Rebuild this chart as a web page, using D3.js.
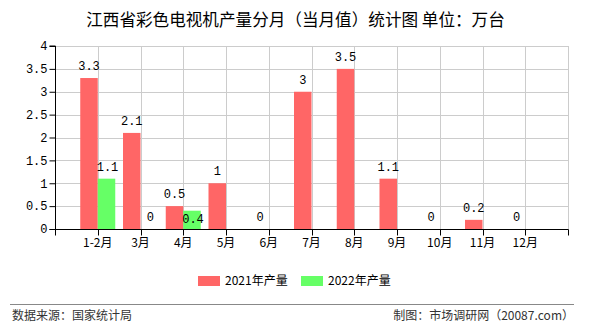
<!DOCTYPE html>
<html><head><meta charset="utf-8">
<script src="https://cdn.jsdelivr.net/npm/d3@7"></script>
<style>body{margin:0;background:#fff}svg{display:block}</style>
</head><body><svg id="c" width="590" height="330"></svg>
<script>
const categories = ["1-2月","3月","4月","5月","6月","7月","8月","9月","10月","11月","12月"];
const series2021 = [3.3, 2.1, 0.5, 1, 0, 3, 3.5, 1.1, 0, 0.2, 0];
const series2022 = [1.1, 0, 0.4, null, null, null, null, null, null, null, null];
const seriesNames = ["2021年产量","2022年产量"];
const yTicks = [0,0.5,1,1.5,2,2.5,3,3.5,4];
const title = "江西省彩色电视机产量分月（当月值）统计图 单位：万台";
const sourceText = "数据来源：国家统计局";
const creditText = "制图：市场调研网（20087.com）";

const colors = ["#ff6666","#66ff66"];
const svg = d3.select("#c");
const L = 55, R = 568, T = 46, B = 229;
const step = (R - L) / 12;
const x = d3.scaleBand().domain(categories).range([L + step/2, L + step/2 + step*categories.length]).padding(0);
const cx = c => x(c) + x.bandwidth()/2;
const y = d3.scaleLinear().domain([0,4]).range([B, T]);
const bw = 17.5;
const numFont = "'Liberation Mono','DejaVu Sans Mono',monospace";
const cjk = "'Noto Sans CJK SC','Noto Sans',sans-serif";

svg.append("text").attr("x",295.5).attr("y",26).attr("text-anchor","middle")
  .attr("font-family",cjk).attr("font-size",16.6).attr("fill","#000").text(title);

// horizontal grid
svg.append("g").selectAll("line").data(yTicks.slice(1)).join("line")
  .attr("x1",L).attr("x2",R).attr("y1",d=>Math.round(y(d))+0.5).attr("y2",d=>Math.round(y(d))+0.5)
  .attr("stroke","#cccccc");
// vertical grid
const vgrid = categories.map(cx).concat([R]);
svg.append("g").selectAll("line").data(vgrid).join("line")
  .attr("x1",d=>Math.round(d)+0.5).attr("x2",d=>Math.round(d)+0.5).attr("y1",T).attr("y2",B)
  .attr("stroke","#cccccc");

// bars
const data = categories.map((c,i)=>({c, a:series2021[i], b:series2022[i]}));
svg.append("g").selectAll("rect").data(data.filter(d=>d.a!=null && d.a>0)).join("rect")
  .attr("x",d=>cx(d.c)-bw).attr("width",bw).attr("y",d=>y(d.a)).attr("height",d=>B-y(d.a))
  .attr("fill",colors[0]);
svg.append("g").selectAll("rect").data(data.filter(d=>d.b!=null && d.b>0)).join("rect")
  .attr("x",d=>cx(d.c)).attr("width",bw).attr("y",d=>y(d.b)).attr("height",d=>B-y(d.b))
  .attr("fill",colors[1]);

// axes
const yAxis = d3.axisLeft(y).tickValues(yTicks).tickSize(6).tickFormat(d3.format("~g"));
const gy = svg.append("g").attr("transform",`translate(${L+0.5},0)`).call(yAxis);
gy.select(".domain").attr("stroke","#000").attr("d",`M-6,${B+0.5}H0V${T}H-6`);
gy.selectAll(".tick line").attr("stroke","#000");
gy.selectAll(".tick text").attr("font-family",numFont).attr("font-size",12).attr("fill","#000").attr("x",-8);

const gx = svg.append("g").attr("transform",`translate(0,${B+0.5})`);
gx.append("line").attr("x1",L).attr("x2",R+0.5).attr("y1",0).attr("y2",0).attr("stroke","#000");
const tickXs = [L].concat(categories.map(cx)).concat([R]);
gx.selectAll("line.t").data(tickXs).join("line").attr("class","t")
  .attr("x1",d=>Math.round(d)+0.5).attr("x2",d=>Math.round(d)+0.5).attr("y1",0).attr("y2",6).attr("stroke","#000");
gx.selectAll("text").data(categories).join("text")
  .attr("x",d=>cx(d)).attr("y",17).attr("text-anchor","middle")
  .attr("font-family",cjk).attr("font-size",12).attr("fill","#000").text(d=>d);

// value labels
const lab = svg.append("g").attr("font-family",numFont).attr("font-size",12).attr("fill","#000").attr("text-anchor","middle");
data.forEach(d=>{
  let ya = null;
  if (d.a!=null){ ya = y(d.a)-8; lab.append("text").attr("x",cx(d.c)-bw/2).attr("y",ya).text(d3.format("~g")(d.a)); }
  if (d.b!=null){
    let yb = y(d.b)-8;
    if (ya!=null && Math.abs(ya-yb)<13) yb = y(d.b)+12.5;
    lab.append("text").attr("x",cx(d.c)+bw/2+1).attr("y",yb).text(d3.format("~g")(d.b));
  }
});

// legend
const lg = svg.append("g");
[[198,225],[301,328]].forEach((p,i)=>{
  lg.append("rect").attr("x",p[0]).attr("y",276).attr("width",22).attr("height",10).attr("fill",colors[i]);
  lg.append("text").attr("x",p[1]).attr("y",285).attr("font-family",cjk).attr("font-size",12).attr("fill","#000").text(seriesNames[i]);
});

// footer
svg.append("line").attr("x1",10).attr("x2",574).attr("y1",304.5).attr("y2",304.5).attr("stroke","#888");
svg.append("text").attr("x",12).attr("y",320).attr("font-family",cjk).attr("font-size",12).attr("fill","#333").text(sourceText);
svg.append("text").attr("x",574).attr("y",320).attr("text-anchor","end").attr("font-family",cjk).attr("font-size",12).attr("fill","#333").text(creditText);
</script></body></html>
